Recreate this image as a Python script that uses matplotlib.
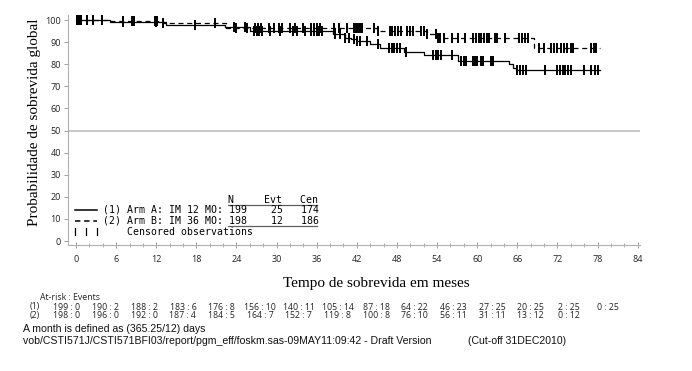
import numpy as np
import matplotlib
matplotlib.use("Agg")
import matplotlib.pyplot as plt
from matplotlib.lines import Line2D

# ---------------- data ----------------
times_A = [0, 5.1, 13.5, 22.3, 26.0, 38.5, 40.2, 41.2, 42.0, 44.0, 45.5, 49.0, 52.0, 57.2, 64.8, 65.3, 65.8]
surv_A = [100, 99.2, 97.8, 96.8, 95.2, 93.5, 92.0, 91.3, 90.5, 89.0, 87.4, 85.5, 84.0, 81.4, 80.0, 78.5, 77.2]
end_A = 78.3
times_B = [0, 5.0, 13.0, 22.5, 45.0, 52.5, 54.0, 68.5]
surv_B = [100, 99.4, 98.5, 96.4, 95.2, 93.5, 92.0, 87.5]
end_B = 78.3

cens_A = [0.2, 0.4, 0.6, 0.8, 1.6, 2.5, 3.9, 7.0, 12.0, 17.8, 23.6, 25.2, 26.6, 27.0, 27.4, 27.8,
          29.0, 30.5, 32.4, 33.0, 34.3, 35.2, 35.6, 36.0, 36.4, 36.8, 38.8, 39.5, 40.2, 40.8,
          41.6, 42.0, 42.4, 43.5, 45.2, 46.8, 47.2, 47.6, 48.0, 48.5, 49.4, 53.4, 53.8, 54.2,
          54.6, 56.3, 57.6, 58.0, 58.3, 59.4, 59.7, 60.0, 60.5, 60.8, 62.0, 62.4, 66.0, 66.4,
          66.8, 67.3, 70.2, 72.0, 72.4, 72.8, 73.2, 73.6, 74.0, 75.9, 77.0, 77.6, 78.0]
cens_B = [0.2, 0.5, 0.8, 7.0, 8.3, 8.6, 11.8, 12.1, 13.0, 20.8, 24.0, 25.5, 26.8, 27.2, 27.6,
          28.8, 29.6, 30.4, 30.8, 32.0, 32.7, 34.0, 35.2, 35.6, 36.0, 36.5, 38.6, 39.3, 40.5,
          41.6, 41.9, 42.2, 42.5, 42.8, 44.5, 45.2, 46.9, 47.3, 47.7, 48.1, 48.6, 49.5, 50.0,
          50.4, 51.6, 52.0, 52.5, 53.8, 54.2, 54.5, 55.0, 56.3, 57.2, 58.2, 59.4, 59.8, 60.2,
          60.6, 61.0, 61.4, 61.8, 62.6, 63.0, 64.2, 66.3, 66.7, 67.2, 67.6, 69.3, 70.0, 71.0,
          71.5, 72.0, 72.5, 73.0, 73.5, 74.0, 74.4, 77.0, 77.4, 77.8]

x_ticks = list(range(0, 85, 6))
y_ticks = list(range(0, 101, 10))

legend_header = "N     Evt   Cen"
legend_rows = ["(1) Arm A: IM 12 MO: 199    25   174",
               "(2) Arm B: IM 36 MO: 198    12   186"]
legend_cens = "Censored observations"

risk_title = "At-risk : Events"
risk_A = ["199 : 0", "190 : 2", "188 : 2", "183 : 6", "176 : 8", "156 : 10", "140 : 11", "105 : 14",
          "87 : 18", "64 : 22", "46 : 23", "27 : 25", "20 : 25", "2 : 25", "0 : 25"]
risk_B = ["198 : 0", "196 : 0", "192 : 0", "187 : 4", "184 : 5", "164 : 7", "152 : 7", "119 : 8",
          "100 : 8", "76 : 10", "56 : 11", "31 : 11", "13 : 12", "0 : 12"]

footer1 = "A month is defined as (365.25/12) days"
footer2 = "vob/CSTI571J/CSTI571BFI03/report/pgm_eff/foskm.sas-09MAY11:09:42 - Draft Version"
footer3 = "(Cut-off 31DEC2010)"

# ---------------- figure ----------------
W, H = 692, 371
fig = plt.figure(figsize=(W / 100, H / 100), dpi=100)
fig.patch.set_facecolor("white")

def fx(x):
    return x / W

def fy(y):
    return 1 - y / H

ax = fig.add_axes([fx(68), fy(245), fx(640) - fx(68), fy(15) - fy(245)])
ax.set_xlim(-1.2, 84.35)
ax.set_ylim(-1.8, 102.3)
for s in ["top", "right"]:
    ax.spines[s].set_visible(False)
ax.spines["left"].set_color("#b0b0b0")
ax.spines["bottom"].set_color("#b0b0b0")
ax.spines["left"].set_linewidth(0.8)
ax.spines["bottom"].set_linewidth(0.8)

ax.axhline(50, color="#c8c8c8", lw=1.4, zorder=1)

def step_xy(times, surv, end):
    t = list(times) + [end]
    s = list(surv) + [surv[-1]]
    return t, s

def surv_at(times, surv, t):
    idx = np.searchsorted(times, t, side="right") - 1
    return np.array(surv)[idx]

tA, sA = step_xy(times_A, surv_A, end_A)
tB, sB = step_xy(times_B, surv_B, end_B)
ax.plot(tA, sA, drawstyle="steps-post", color="black", lw=0.9, zorder=3)
ax.plot(tB, sB, drawstyle="steps-post", color="black", lw=0.9, dashes=(4, 3), zorder=3)

ax.plot(cens_A, surv_at(times_A, surv_A, np.array(cens_A)), ls="none", marker="|",
        ms=7, mew=1.4, color="black", zorder=4)
ax.plot(cens_B, surv_at(times_B, surv_B, np.array(cens_B)), ls="none", marker="|",
        ms=7, mew=1.4, color="black", zorder=4)

ax.set_xticks(x_ticks)
ax.set_xticks(np.arange(0, 85, 2), minor=True)
ax.set_yticks(y_ticks)
ax.set_yticklabels([str(v) for v in y_ticks])
for lab in ax.get_xticklabels() + ax.get_yticklabels():
    lab.set_fontfamily("Open Sans")
    lab.set_fontsize(6.5)
    lab.set_color("#222222")
ax.tick_params(axis="x", which="major", direction="inout", length=5, width=0.7,
               color="#a0a0a0", pad=5)
ax.tick_params(axis="x", which="minor", direction="inout", length=3, width=0.6, color="#a0a0a0")
ax.tick_params(axis="y", which="major", direction="out", length=3, width=0.7,
               color="#a0a0a0", pad=2)

# axis titles
fig.text(fx(35), fy(122), "Probabilidade de sobrevida global", rotation=90,
         ha="center", va="center", family="Liberation Serif", size=11)
fig.text(fx(376), fy(283), "Tempo de sobrevida em meses", ha="center", va="center",
         family="Liberation Serif", size=11)

# legend block
mono = dict(family="DejaVu Sans Mono", size=7.1, va="center", ha="left")
fig.text(fx(228), fy(200), legend_header, **mono)
fig.text(fx(103), fy(210), legend_rows[0], **mono)
fig.text(fx(103), fy(221), legend_rows[1], **mono)
fig.text(fx(127), fy(231.5), legend_cens, **mono)
fig.add_artist(Line2D([fx(75), fx(97)], [fy(210), fy(210)], color="black", lw=1.1))
fig.add_artist(Line2D([fx(75), fx(97)], [fy(221), fy(221)], color="black", lw=1.1, dashes=(3.5, 2.5)))
for xx in [75, 86, 97]:
    fig.add_artist(Line2D([fx(xx), fx(xx)], [fy(228), fy(235)], color="black", lw=0.9))
fig.add_artist(Line2D([fx(228), fx(317)], [fy(205), fy(205)], color="#606060", lw=0.9))
fig.add_artist(Line2D([fx(228), fx(317)], [fy(226), fy(226)], color="#606060", lw=0.9))

# at-risk table
risk_font = dict(family="Open Sans", size=6.3, va="center", color="#222222")
fig.text(fx(40), fy(298), risk_title, ha="left", **risk_font)
fig.text(fx(30), fy(307), "(1)", ha="left", **risk_font)
fig.text(fx(30), fy(315.5), "(2)", ha="left", **risk_font)
risk_x = np.linspace(67, 608, 15)
for i, txt in enumerate(risk_A):
    fig.text(fx(risk_x[i]), fy(307), txt, ha="center", **risk_font)
for i, txt in enumerate(risk_B):
    fig.text(fx(risk_x[i]), fy(315.5), txt, ha="center", **risk_font)

# footers
foot = dict(family="Liberation Sans", size=7.6, va="center", ha="left", color="#111111")
fig.text(fx(23), fy(329), footer1, **foot)
fig.text(fx(23), fy(341), footer2, **foot)
fig.text(fx(468), fy(341), footer3, **foot)

fig.savefig("out.png", dpi=100, facecolor="white")
